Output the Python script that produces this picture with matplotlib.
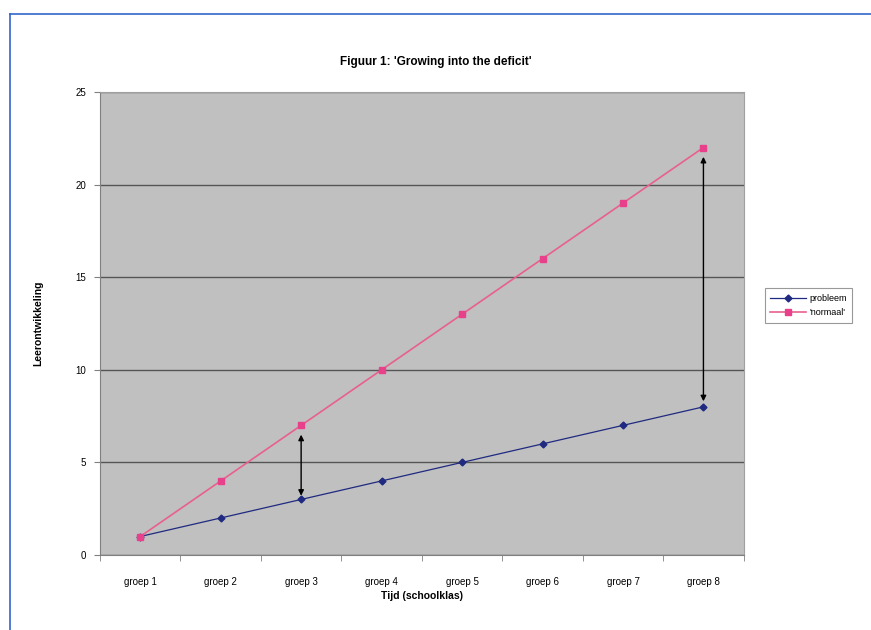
import matplotlib.pyplot as plt
from matplotlib.lines import Line2D

plt.rcParams['font.family'] = ['Liberation Sans', 'DejaVu Sans']

# data
groepen = ['groep 1', 'groep 2', 'groep 3', 'groep 4',
           'groep 5', 'groep 6', 'groep 7', 'groep 8']
probleem = [1, 2, 3, 4, 5, 6, 7, 8]
normaal = [1, 4, 7, 10, 13, 16, 19, 22]

# double arrows showing the gap (x index, from, to)
gap_x = [2, 7]
gap_lo = [3.2, 8.3]
gap_hi = [6.5, 21.5]

fig = plt.figure(figsize=(8.71, 6.3), dpi=100)
ax = fig.add_axes([0.1148, 0.119, 0.739, 0.735])
ax.set_facecolor('#c0c0c0')

x = list(range(len(groepen)))
ax.plot(x, probleem, color='#1f2a80', lw=0.9, marker='D', ms=3.5,
        label='probleem', zorder=3)
ax.plot(x, normaal, color='#e8608c', lw=1.2, marker='s', ms=5,
        mfc='#e8408a', mec='#e8408a', label="'normaal'", zorder=3)

for gx, lo, hi in zip(gap_x, gap_lo, gap_hi):
    ax.annotate('', xy=(gx, hi), xytext=(gx, lo),
                arrowprops=dict(arrowstyle='<|-|>', color='black', lw=1.0,
                                mutation_scale=8, shrinkA=0, shrinkB=0),
                zorder=4)

ax.set_xlim(-0.5, 7.5)
ax.set_ylim(0, 25)
ax.set_yticks([0, 5, 10, 15, 20, 25])
ax.set_xticks(x)
ax.set_xticklabels(groepen)
ax.set_xticks([i + 0.5 for i in range(-1, 8)], minor=True)
ax.tick_params(axis='x', which='major', length=0, pad=16, labelsize=7)
ax.tick_params(axis='x', which='minor', length=4, color='#808080')
ax.tick_params(axis='y', length=4, color='#808080', labelsize=7, pad=6)
ax.yaxis.grid(True, color='#555555', lw=1.0)
ax.set_axisbelow(True)

for side in ['top', 'right']:
    ax.spines[side].set_color('#a0a0a0')
ax.spines['left'].set_color('#808080')
ax.spines['bottom'].set_color('#808080')

ax.set_xlabel('Tijd (schoolklas)', fontsize=7.5, fontweight='bold', labelpad=3)
ax.set_ylabel('Leerontwikkeling', fontsize=7.5, fontweight='bold', labelpad=23)
fig.text(0.5, 0.901, "Figuur 1: 'Growing into the deficit'", ha='center',
         va='center', fontsize=8.5, fontweight='bold')

leg = fig.legend(loc='center left', bbox_to_anchor=(0.873, 0.515),
                 fontsize=6.5, frameon=True, fancybox=False, edgecolor='#808080',
                 handlelength=4, borderpad=0.6, labelspacing=0.6,
                 handletextpad=0.3)
leg.get_frame().set_linewidth(0.8)

# blue frame of the figure
fig.add_artist(Line2D([0.0115, 0.0115], [0, 0.978], color='#3366cc', lw=1.2,
                      transform=fig.transFigure))
fig.add_artist(Line2D([0.0115, 1.0], [0.978, 0.978], color='#3366cc', lw=1.2,
                      transform=fig.transFigure))

fig.savefig('out.png', dpi=100)
